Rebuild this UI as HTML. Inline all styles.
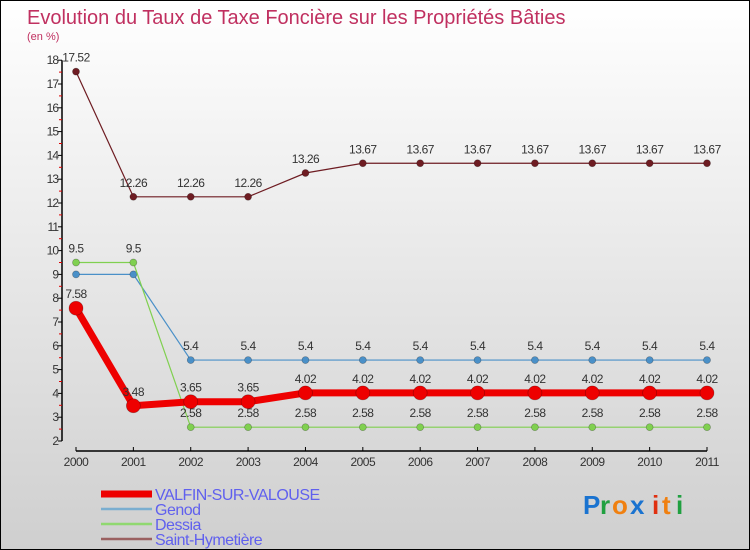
<!DOCTYPE html>
<html><head><meta charset="utf-8"><style>
body{margin:0}
#c{position:relative;width:748px;height:548px;border:1px solid #000;background:linear-gradient(#ffffff,#cfcfcf);font-family:"Liberation Sans",sans-serif;overflow:hidden}
</style></head><body>
<div id="c">
<svg id="s" width="748" height="548" xmlns="http://www.w3.org/2000/svg" style="position:absolute;left:0;top:0">
<text x="26" y="23" font-size="20" fill="#c03060">Evolution du Taux de Taxe Foncière sur les Propriétés Bâties</text>
<text x="26" y="39" font-size="11" fill="#c03060">(en %)</text>
<g id="axes"></g><g id="series"></g><g id="legend"></g>
<g font-size="26" font-weight="bold">
<text x="582" y="513" fill="#1a73d0">P</text><text x="599" y="513" fill="#20a040">r</text><text x="611" y="513" fill="#f08010">o</text><text x="629" y="513" fill="#1a73d0">x</text><text x="651" y="513" fill="#e03010">i</text><text x="661" y="513" fill="#f08010">t</text><text x="675" y="513" fill="#20a040">i</text>
</g>
</svg>
</div>
<script>
const years=["2000","2001","2002","2003","2004","2005","2006","2007","2008","2009","2010","2011"];
const valfin=[7.58,3.48,3.65,3.65,4.02,4.02,4.02,4.02,4.02,4.02,4.02,4.02];
const genod=[9,9,5.4,5.4,5.4,5.4,5.4,5.4,5.4,5.4,5.4,5.4];
const dessia=[9.5,9.5,2.58,2.58,2.58,2.58,2.58,2.58,2.58,2.58,2.58,2.58];
const saint=[17.52,12.26,12.26,12.26,13.26,13.67,13.67,13.67,13.67,13.67,13.67,13.67];
const yTicks=[2,3,4,5,6,7,8,9,10,11,12,13,14,15,16,17,18];
const NS="http://www.w3.org/2000/svg";
const X=i=>75+i*(706-75)/11;
const Y=v=>440-(v-2)*23.8;
function mk(t,a,p){const e=document.createElementNS(NS,t);for(const k in a)e.setAttribute(k,a[k]);p.appendChild(e);return e;}
const ax=document.getElementById('axes');
let l=mk('line',{x1:61,y1:Y(18),x2:61,y2:Y(2),stroke:'#000','stroke-width':1.5},ax);


yTicks.forEach(v=>{
 mk('line',{x1:57,y1:Y(v),x2:61,y2:Y(v),stroke:'#000'},ax);
 if(v<18)mk('line',{x1:58,y1:Y(v+0.5),x2:61,y2:Y(v+0.5),stroke:'#d00'},ax);
 const t=mk('text',{x:57,y:Y(v)+4,'font-size':12,fill:'#333','text-anchor':'end','letter-spacing':'-1'},ax);
 t.textContent=v;
 
 
});
l=mk('line',{x1:75,y1:450,x2:706,y2:450,stroke:'#000','stroke-width':1.5},ax);


years.forEach((y,i)=>{
 mk('line',{x1:X(i),y1:446,x2:X(i),y2:450,stroke:'#000'},ax);
 const t=mk('text',{x:X(i),y:465,'font-size':12,fill:'#333','text-anchor':'middle','letter-spacing':'-0.5'},ax);
 t.textContent=y;
 
 
});
const sg=document.getElementById('series');
function series(name,vals,col,w,r,labelFrom){
 const g=mk('g',{},sg);
 
 
 mk('polyline',{points:vals.map((v,i)=>X(i)+','+Y(v)).join(' '),fill:'none',stroke:col,'stroke-width':w},g);
 vals.forEach((v,i)=>{
  const c=mk('circle',{cx:X(i),cy:Y(v),r:r,fill:col,stroke:'rgba(0,0,0,0.3)','stroke-width':0.7},g);
  
  
  if(i>=labelFrom){
   const t=mk('text',{x:X(i),y:Y(v)-10,'font-size':12,fill:'#333','text-anchor':'middle','letter-spacing':'-0.5'},g);
   t.textContent=v;
   
   
  }
 });
}
series('saint-hymetiere',saint,'#6e1c22',1.2,3.5,0);
series('genod',genod,'#4a90c8',1.2,3.5,2);
series('dessia',dessia,'#80d050',1.2,3.5,0);
series('valfin',valfin,'#ee0000',7,7,0);
const lg=document.getElementById('legend');
const items=[['VALFIN-SUR-VALOUSE','#ee0000',7],['Genod','#7aaed0',2.5],['Dessia','#90d870',2.5],['Saint-Hymetière','#9a6060',2.5]];
items.forEach((it,i)=>{
 const y=493+i*15;
 const g=mk('g',{},lg);
 
 
 mk('line',{x1:100,y1:y,x2:151,y2:y,stroke:it[1],'stroke-width':it[2]},g);
 const t=mk('text',{x:154,y:y+6,'font-size':16,fill:'#6060ee','letter-spacing':'-0.5'},g);
 t.textContent=it[0];
});
</script>
</body></html>
